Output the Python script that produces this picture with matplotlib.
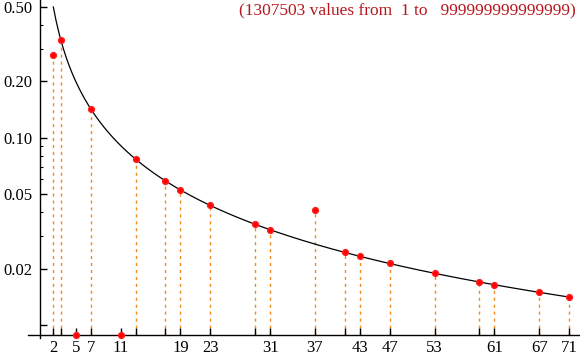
import matplotlib
matplotlib.use('Agg')
import matplotlib.pyplot as plt
import numpy as np

primes = [2, 3, 5, 7, 11, 13, 17, 19, 23, 29, 31, 37, 41, 43, 47, 53, 59, 61, 67, 71]
freq = [0.2766, 0.3333, 0.0, 0.1429, 0.0, 0.0769, 0.0588, 0.0526, 0.0435, 0.0345,
        0.0323, 0.0411, 0.0244, 0.0233, 0.0213, 0.0189, 0.0169, 0.0164, 0.0149, 0.0141]
labeled = [2, 5, 7, 11, 19, 23, 31, 37, 43, 47, 53, 61, 67, 71]
y_major = [0.01, 0.02, 0.05, 0.1, 0.2, 0.5]
y_major_labels = ['', '0.02', '0.05', '0.10', '0.20', '0.50']
y_minor = [0.03, 0.04, 0.06, 0.07, 0.08, 0.09, 0.3, 0.4]
note = '(1307503 values from  1 to   999999999999999)'

plt.rcParams['font.family'] = ['Liberation Serif', 'DejaVu Serif']

fig = plt.figure(figsize=(5.8, 3.57), dpi=100)
ax = fig.add_axes([28 / 580, 19 / 357, 552 / 580, 338 / 357])
ax.set_yscale('log')
ax.set_xlim(-1.39, 72.46)
ax.set_ylim(0.00851, 0.545)

x0, ybase = 0.15, 0.00879
ax.spines['left'].set_position(('data', x0))
ax.spines['bottom'].set_position(('data', ybase))
for s in ['top', 'right']:
    ax.spines[s].set_visible(False)
for s in ['left', 'bottom']:
    ax.spines[s].set_linewidth(1.0)

p = np.array(primes, dtype=float)
v = np.array(freq)
shown = np.where(v > 0, v, ybase)

# reference curve 1/p
xs = np.linspace(2, 71, 400)
ax.plot(xs, 1 / xs, color='black', lw=0.9, zorder=2)

ax.vlines(p[v > 0], ybase, v[v > 0], colors='#f08a1c', linestyles=(0, (2.2, 2.8)),
          lw=1.0, zorder=1)
ax.plot(p, shown, 'o', color='#ff0000', ms=4.2, mec='#ff2020', zorder=3, clip_on=False)

ax.set_xticks(primes)
ax.set_xticklabels([str(q) if q in labeled else '' for q in primes])
ax.set_yticks(y_major)
ax.set_yticklabels(y_major_labels)
ax.set_yticks(y_minor, minor=True)
ax.yaxis.set_minor_formatter(plt.NullFormatter())
ax.tick_params(axis='both', which='major', direction='in', length=5, width=1,
               labelsize=12)
ax.tick_params(axis='y', which='minor', direction='in', length=2.5, width=0.8)
ax.tick_params(axis='y', which='major', pad=5)
ax.tick_params(axis='x', which='major', pad=3.5)

fig.text(576 / 580, 1 - 10 / 357, note, color='#b8161c', fontsize=12.5,
         ha='right', va='center')

fig.savefig('out.png', dpi=100)
